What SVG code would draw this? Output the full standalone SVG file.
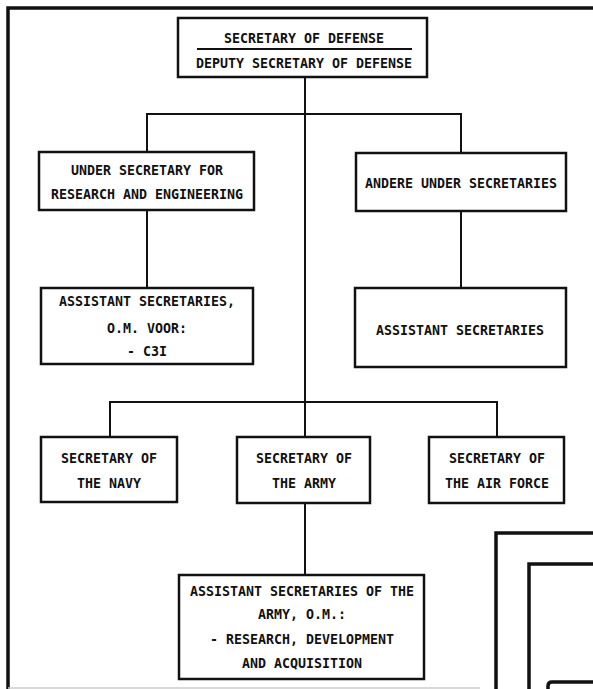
<svg xmlns="http://www.w3.org/2000/svg" width="593" height="689" viewBox="0 0 593 689">
<style>
.box{fill:#fff;stroke:#111;stroke-width:2.5}
.con{fill:none;stroke:#111;stroke-width:2}
.frame{fill:none;stroke:#111;stroke-width:3.5}
text{font-family:"DejaVu Sans Mono","Liberation Mono",monospace;font-weight:bold;font-size:13.3px;fill:#111;text-anchor:middle}
</style>
<rect width="593" height="689" fill="#fff"/>
<g id="frame">
<path class="frame" d="M8,689 V8 H593"/>
<path d="M8,688 H480" stroke="#ccc" stroke-width="1.5" fill="none"/>
<path class="frame" d="M496,689 V533 H593"/>
<path class="frame" d="M529,689 V564 H593"/>
<path class="frame" d="M548,689 V686 Q548,682 552,682 H593"/>
</g>
<g id="connectors">
<path class="con" d="M305,77 V437"/>
<path class="con" d="M147,152 V114 H461 V153"/>
<path class="con" d="M147,210 V288"/>
<path class="con" d="M461,211 V288"/>
<path class="con" d="M110,437 V402 H497 V437"/>
<path class="con" d="M305,502 V575"/>
</g>
<g id="secdef">
<rect class="box" x="178" y="18" width="249" height="59"/>
<line x1="197" y1="49" x2="412" y2="49" stroke="#111" stroke-width="1.8"/>
<text x="304" y="43">SECRETARY OF DEFENSE</text>
<text x="304" y="68">DEPUTY SECRETARY OF DEFENSE</text>
</g>
<g id="usre">
<rect class="box" x="39" y="152" width="215" height="58"/>
<text x="147" y="175">UNDER SECRETARY FOR</text>
<text x="147" y="199">RESEARCH AND ENGINEERING</text>
</g>
<g id="andere">
<rect class="box" x="356" y="153" width="210" height="58"/>
<text x="461" y="188">ANDERE UNDER SECRETARIES</text>
</g>
<g id="asst-left">
<rect class="box" x="41" y="288" width="212" height="76"/>
<text x="147" y="306">ASSISTANT SECRETARIES,</text>
<text x="147" y="333">O.M. VOOR:</text>
<text x="147" y="356">- C3I</text>
</g>
<g id="asst-right">
<rect class="box" x="355" y="288" width="211" height="79"/>
<text x="460" y="335">ASSISTANT SECRETARIES</text>
</g>
<g id="navy">
<rect class="box" x="41" y="437" width="136" height="65"/>
<text x="109" y="463">SECRETARY OF</text>
<text x="109" y="488">THE NAVY</text>
</g>
<g id="army">
<rect class="box" x="237" y="437" width="133" height="66"/>
<text x="304" y="463">SECRETARY OF</text>
<text x="304" y="488">THE ARMY</text>
</g>
<g id="airforce">
<rect class="box" x="429" y="437" width="135" height="66"/>
<text x="497" y="463">SECRETARY OF</text>
<text x="497" y="488">THE AIR FORCE</text>
</g>
<g id="asst-army">
<rect class="box" x="179" y="575" width="245" height="104"/>
<text x="302" y="596">ASSISTANT SECRETARIES OF THE</text>
<text x="302" y="619">ARMY, O.M.:</text>
<text x="302" y="644">- RESEARCH, DEVELOPMENT</text>
<text x="302" y="668">AND ACQUISITION</text>
</g>
</svg>
